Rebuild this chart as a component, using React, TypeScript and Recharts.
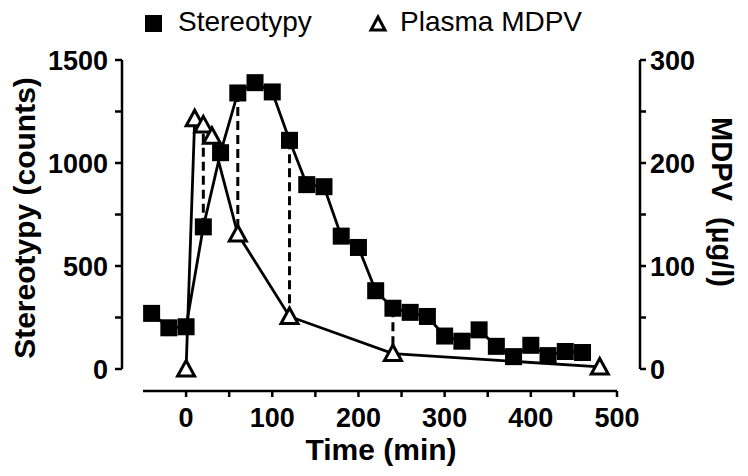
import React from 'react';
import { ComposedChart, Line, XAxis, YAxis, Legend, ReferenceLine, Customized } from 'recharts';

// stereotypy counts, every 20 min
const stereoTimes = [-40, -20, 0, 20, 40, 60, 80, 100, 120, 140, 160, 180, 200, 220, 240, 260, 280, 300, 320, 340, 360, 380, 400, 420, 440, 460];
const stereoCounts = [270, 200, 205, 690, 1050, 1340, 1390, 1345, 1110, 895, 885, 645, 590, 380, 295, 275, 255, 160, 135, 190, 110, 60, 115, 65, 85, 80];

// plasma MDPV (ug/l)
const mdpvTimes = [0, 10, 20, 30, 60, 120, 240, 480];
const mdpvLevels = [0, 243, 237, 226, 131, 51, 15, 2];

// times where both were sampled (dashed connectors)
const pairedTimes = [20, 60, 120, 240];

const xTicks = [0, 50, 100, 150, 200, 250, 300, 350, 400, 450, 500];
const stereoTicks = [0, 250, 500, 750, 1000, 1250, 1500];
const mdpvTicks = [0, 50, 100, 150, 200, 250, 300];

const W = 748;
const H = 476;
const LEFT = 122;
const RIGHT = 640;
const TOP = 60;
const BOTTOM = 391;
const PAD_L = 21;
const PAD_R = 23;
const PAD_B = 22;
const AXIS_W = 60;
const AXIS_H = 60;
const FONT = '"Liberation Sans", Arial, sans-serif';

const stereoData = stereoTimes.map((t, i) => ({ time: t, value: stereoCounts[i] }));
const mdpvData = mdpvTimes.map((t, i) => ({ time: t, value: mdpvLevels[i] }));
const scaleRatio = stereoTicks[stereoTicks.length - 1] / mdpvTicks[mdpvTicks.length - 1];

const SquareDot = (props: any) => {
  const { cx, cy } = props;
  if (cx == null || cy == null) return <g key={`s-${props.index}`} />;
  return <rect key={`s-${props.index}`} x={cx - 8.5} y={cy - 8.5} width={17} height={17} fill="#000" />;
};

const TriangleDot = (props: any) => {
  const { cx, cy } = props;
  if (cx == null || cy == null) return <g key={`t-${props.index}`} />;
  return (
    <polygon
      key={`t-${props.index}`}
      points={`${cx},${cy - 8.5} ${cx + 8.5},${cy + 7} ${cx - 8.5},${cy + 7}`}
      fill="#fff"
      stroke="#000"
      strokeWidth={3}
      strokeLinejoin="miter"
    />
  );
};

const tickText = { fontFamily: FONT, fontWeight: 700, fontSize: 27, fill: '#000' };

const LeftTick = (props: any) => {
  const { x, y, payload } = props;
  if (payload.value % 500 !== 0) return <g />;
  return (
    <text x={x} y={y} dy="0.36em" textAnchor="end" style={tickText}>
      {payload.value}
    </text>
  );
};

const RightTick = (props: any) => {
  const { x, y, payload } = props;
  if (payload.value % 100 !== 0) return <g />;
  return (
    <text x={x} y={y} dy="0.36em" textAnchor="start" style={tickText}>
      {payload.value}
    </text>
  );
};

const BottomTick = (props: any) => {
  const { x, y, payload } = props;
  if (payload.value % 100 !== 0) return <g />;
  return (
    <text x={x} y={y} dy="0.71em" textAnchor="middle" style={tickText}>
      {payload.value}
    </text>
  );
};

// detached axis lines and titles, GraphPad style
const Frame = () => (
  <g>
    <g stroke="#000" strokeWidth={2.5} fill="none">
      <line x1={LEFT} y1={TOP} x2={LEFT} y2={BOTTOM - PAD_B} />
      <line x1={RIGHT} y1={TOP} x2={RIGHT} y2={BOTTOM - PAD_B} />
      <line x1={LEFT + PAD_L} y1={BOTTOM} x2={RIGHT - PAD_R} y2={BOTTOM} />
    </g>
    <text x={24} y={218} transform="rotate(-90 24 218)" textAnchor="middle" dominantBaseline="central"
      style={{ fontFamily: FONT, fontWeight: 700, fontSize: 30, fill: '#000' }}>
      Stereotypy (counts)
    </text>
    <text x={722} y={202} transform="rotate(90 722 202)" textAnchor="middle" dominantBaseline="central"
      style={{ fontFamily: FONT, fontWeight: 700, fontSize: 29, fill: '#000', whiteSpace: 'pre' }}>
      {'MDPV  (\u00b5g/l)'}
    </text>
    <text x={381} y={460} textAnchor="middle"
      style={{ fontFamily: FONT, fontWeight: 700, fontSize: 30, fill: '#000' }}>
      Time (min)
    </text>
  </g>
);

const LegendBox = () => (
  <div style={{ position: 'relative', height: TOP, width: W, fontFamily: FONT, fontSize: 28, color: '#000' }}>
    <div style={{ position: 'absolute', left: 145, top: 15, width: 17, height: 17, background: '#000' }} />
    <span style={{ position: 'absolute', left: 178, top: 8, lineHeight: '28px', whiteSpace: 'nowrap' }}>Stereotypy</span>
    <svg style={{ position: 'absolute', left: 367, top: 13 }} width={22} height={22}>
      <polygon points="11,4 18,17 4,17" fill="#fff" stroke="#000" strokeWidth={3} />
    </svg>
    <span style={{ position: 'absolute', left: 400, top: 8, lineHeight: '28px', whiteSpace: 'nowrap' }}>Plasma MDPV</span>
  </div>
);

const App: React.FC = () => {
  return (
    <div style={{ position: 'absolute', left: 0, top: 0, width: W, height: H, background: '#fff' }}>
      <ComposedChart
        width={W}
        height={H}
        margin={{ top: 0, left: LEFT - AXIS_W, right: W - RIGHT - AXIS_W, bottom: H - BOTTOM - AXIS_H }}
      >
        <Legend
          verticalAlign="top"
          height={TOP}
          content={() => <LegendBox />}
          wrapperStyle={{ left: 0, top: 0, width: W, height: TOP }}
        />
        <XAxis
          xAxisId={0}
          dataKey="time"
          type="number"
          domain={[-50, 500]}
          ticks={xTicks}
          allowDataOverflow
          padding={{ left: PAD_L, right: PAD_R }}
          height={AXIS_H}
          axisLine={false}
          tickLine={{ stroke: '#000', strokeWidth: 2.5 }}
          tickSize={6}
          tickMargin={11}
          tick={BottomTick}
          interval={0}
        />
        <YAxis
          yAxisId="stereo"
          orientation="left"
          type="number"
          domain={[0, 1500]}
          ticks={stereoTicks}
          padding={{ top: 0, bottom: PAD_B }}
          width={AXIS_W}
          axisLine={false}
          tickLine={{ stroke: '#000', strokeWidth: 2.5 }}
          tickSize={7}
          tickMargin={7}
          tick={LeftTick}
          interval={0}
        />
        <YAxis
          yAxisId="mdpv"
          orientation="right"
          type="number"
          domain={[0, 300]}
          ticks={mdpvTicks}
          padding={{ top: 0, bottom: PAD_B }}
          width={AXIS_W}
          axisLine={false}
          tickLine={{ stroke: '#000', strokeWidth: 2.5 }}
          tickSize={6}
          tickMargin={4}
          tick={RightTick}
          interval={0}
        />
        {pairedTimes.map((t) => (
          <ReferenceLine
            key={`pair-${t}`}
            yAxisId="stereo"
            segment={[
              { x: t, y: stereoCounts[stereoTimes.indexOf(t)] },
              { x: t, y: mdpvLevels[mdpvTimes.indexOf(t)] * scaleRatio },
            ]}
            stroke="#000"
            strokeWidth={3}
            strokeDasharray="9 5"
          />
        ))}
        <Line
          yAxisId="stereo"
          data={stereoData}
          dataKey="value"
          type="linear"
          stroke="#000"
          strokeWidth={2.8}
          dot={SquareDot}
          activeDot={false}
          isAnimationActive={false}
          name="Stereotypy"
        />
        <Line
          yAxisId="mdpv"
          data={mdpvData}
          dataKey="value"
          type="linear"
          stroke="#000"
          strokeWidth={2.8}
          dot={TriangleDot}
          activeDot={false}
          isAnimationActive={false}
          name="Plasma MDPV"
        />
        <Customized component={Frame} />
      </ComposedChart>
    </div>
  );
};

export default App;
